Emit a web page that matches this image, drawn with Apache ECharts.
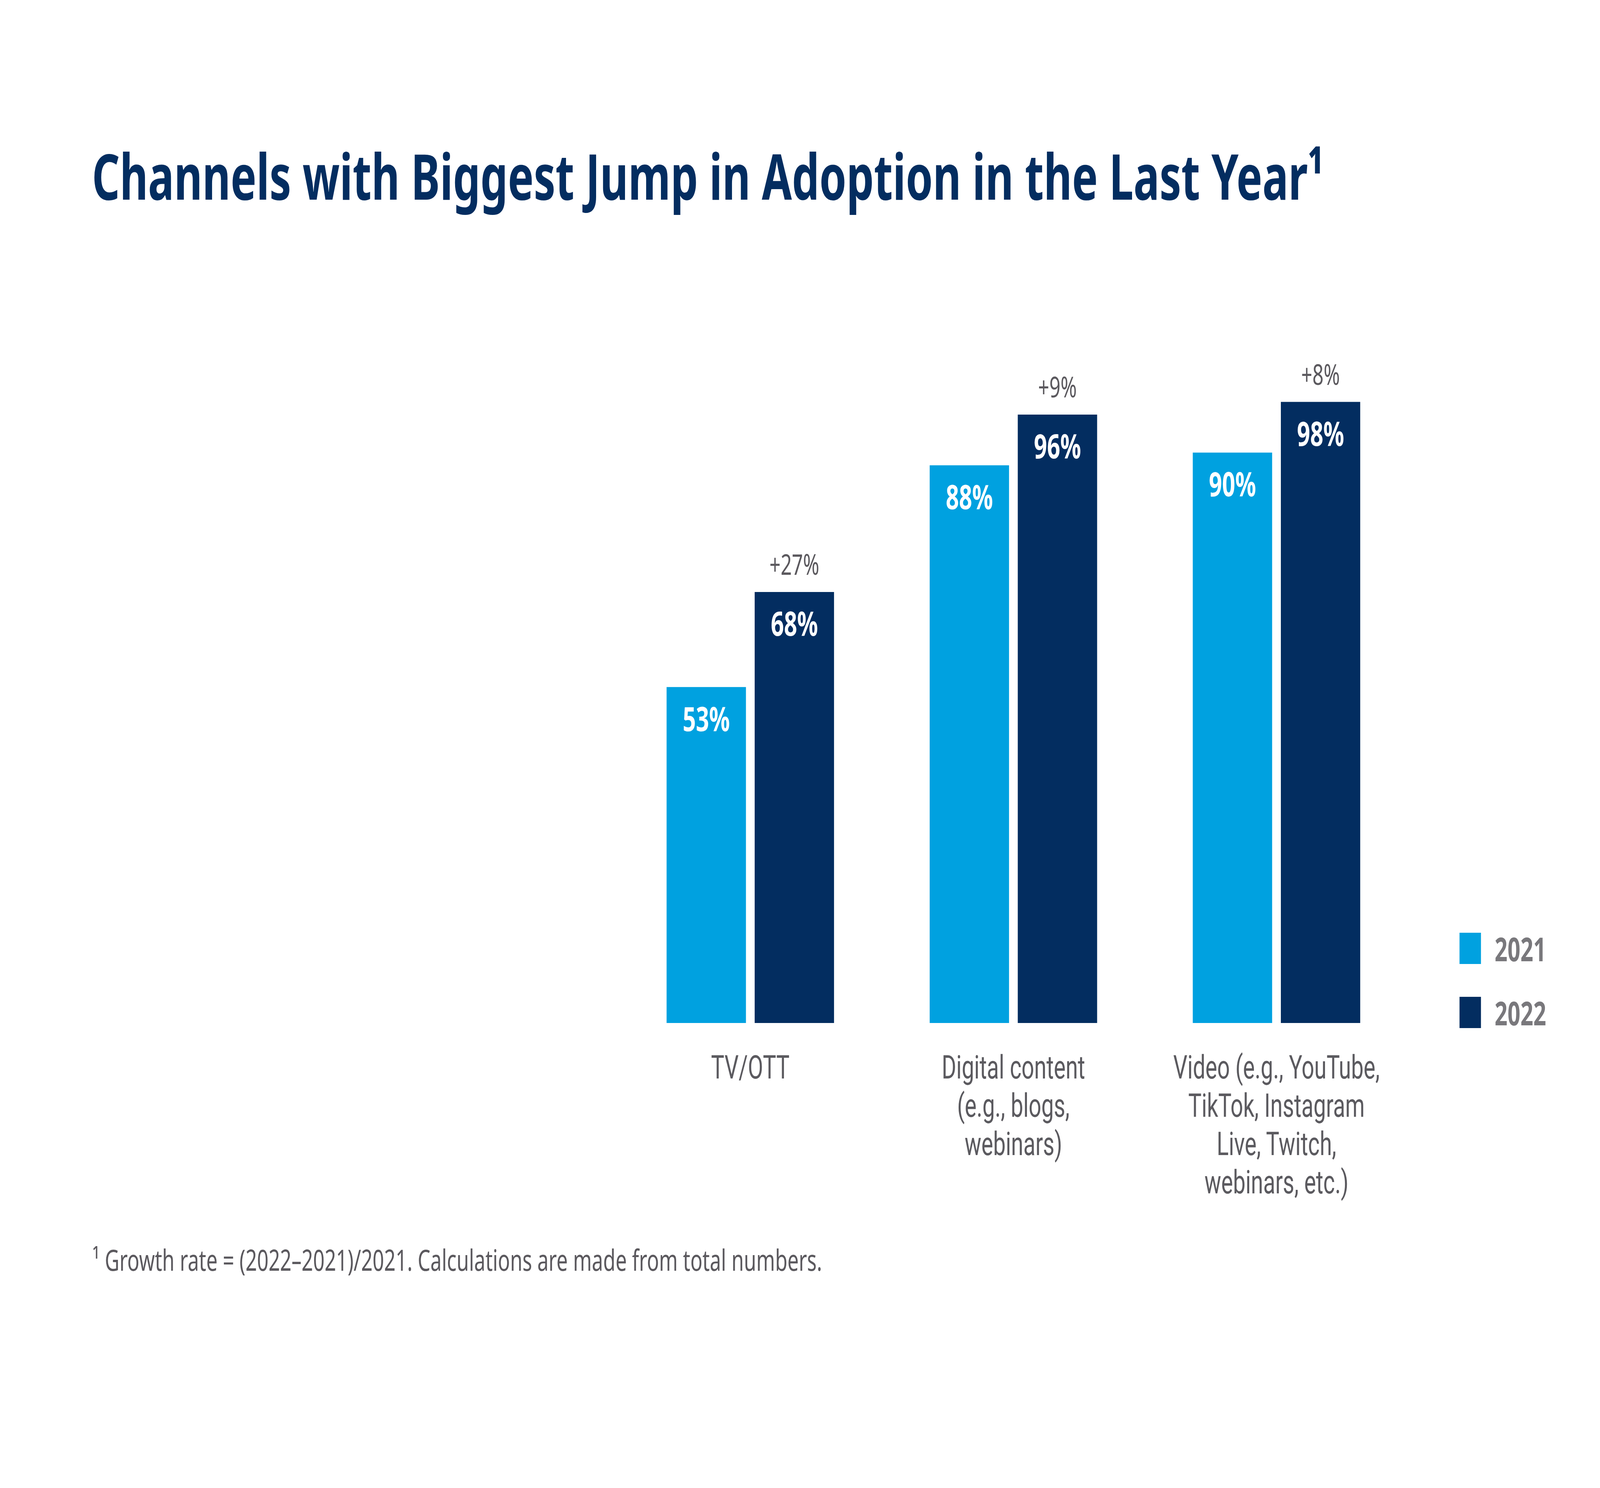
<!DOCTYPE html>
<html>
<head>
<meta charset="utf-8">
<script src="https://cdn.jsdelivr.net/npm/echarts@6/dist/echarts.min.js"></script>
<style>html,body{margin:0;padding:0;background:#fff;overflow:hidden;width:100%;height:100%;}#c{width:5968px;height:3808px;transform-origin:0 0;}</style>
</head>
<body>
<div id="c"></div>
<script>
const categories = ['TV/OTT', 'Digital content\n(e.g., blogs,\nwebinars)', 'Video (e.g., YouTube,\nTikTok, Instagram\nLive, Twitch,\nwebinars, etc.)'];
const values2021 = [53, 88, 90];
const values2022 = [68, 96, 98];
const growthLabels = ['+27%', '+9%', '+8%'];
const seriesNames = ['2021', '2022'];
const titleText = 'Channels with Biggest Jump in Adoption in the Last Year\u00B9';
const footnoteText = '\u00B9 Growth rate = (2022\u20132021)/2021. Calculations are made from total numbers.';

const FONT = '"Noto Sans"';
const el = document.getElementById('c');
// fit the 5968x3808 design into whatever viewport the browser actually has
const fitX = window.innerWidth / 5968, fitY = window.innerHeight / 3808;
el.style.transform = 'scale(' + fitX + ',' + fitY + ')';

const chart = echarts.init(el, null, {renderer: 'svg', width: 5968, height: 3808});
const valueLabel = {
  show: true, position: 'insideTop', distance: 36, color: '#ffffff',
  fontFamily: FONT, fontWeight: 'bold', fontSize: 86,
  formatter: p => p.value + '%'
};
chart.setOption({
  backgroundColor: '#ffffff',
  animation: false,
  title: [
    {text: titleText, left: 338, top: 362,
     textStyle: {fontFamily: FONT, fontWeight: 'bold', fontSize: 162, color: '#032D60'}},
    {text: footnoteText, left: 340, top: 3180,
     textStyle: {fontFamily: FONT, fontWeight: 'normal', fontSize: 75, color: '#5B595E'}}
  ],
  legend: {
    orient: 'vertical', left: 5439, top: 2380,
    itemWidth: 80, itemHeight: 80, itemGap: 80,
    icon: 'rect',
    data: seriesNames,
    textStyle: {fontFamily: FONT, fontWeight: 'bold', fontSize: 84, color: '#79787C', padding: [0, 0, 0, 46]}
  },
  grid: {left: 2308, width: 2944, top: 996, bottom: 1190, containLabel: false},
  xAxis: {
    type: 'category', data: categories,
    axisLine: {show: false}, axisTick: {show: false},
    axisLabel: {fontFamily: 'Roboto', fontSize: 83, lineHeight: 98, color: '#5B5A5F', margin: 64, interval: 0}
  },
  yAxis: {type: 'value', min: 0, max: 100, show: false, splitLine: {show: false}},
  series: [
    {name: seriesNames[0], type: 'bar', data: values2021, barWidth: 296, barGap: '11%',
     itemStyle: {color: '#00A1E0'}, label: valueLabel},
    {name: seriesNames[1], type: 'bar', data: values2022, barWidth: 296, barGap: '11%', stack: 'g22',
     itemStyle: {color: '#032D60'}, label: valueLabel},
    {name: 'growth', type: 'bar', data: growthLabels.map(() => 0), barWidth: 296, barGap: '11%', stack: 'g22',
     itemStyle: {color: 'rgba(0,0,0,0)'},
     label: {show: true, position: 'top', distance: 36, color: '#5B595E', fontFamily: FONT, fontSize: 73,
             formatter: p => growthLabels[p.dataIndex]}}
  ]
});
</script>
</body>
</html>
